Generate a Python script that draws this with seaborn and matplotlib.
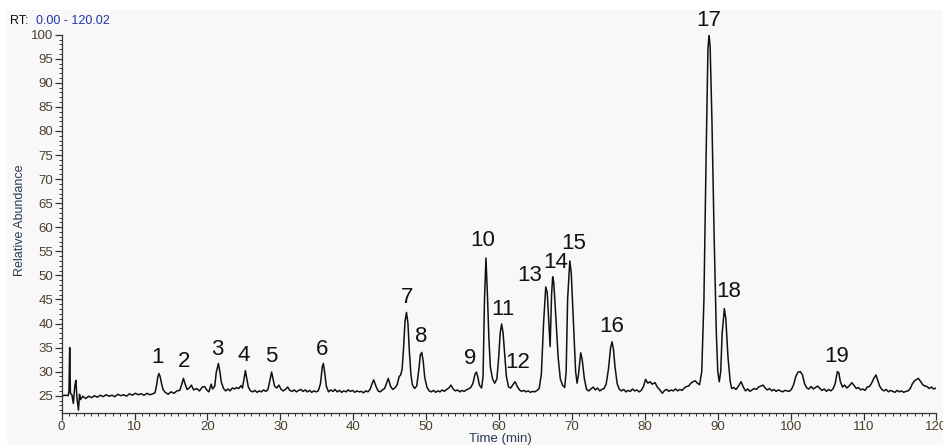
import numpy as np
import matplotlib
matplotlib.use("Agg")
from matplotlib import pyplot as plt
from matplotlib.patches import Rectangle
from matplotlib.ticker import MultipleLocator
import seaborn as sns

# retention time (min) and relative abundance
rt = [0.0, 0.5, 0.9, 1.0, 1.1, 1.2, 1.4, 1.6, 1.8, 1.95, 2.1, 2.3, 2.45, 2.6, 2.9, 3.3, 3.7, 4.1,
      4.5, 4.9, 5.3, 5.7, 6.1, 6.5, 6.9, 7.3, 7.7, 8.1, 8.5, 8.9, 9.3, 9.7, 10.1, 10.5, 10.9,
      11.3, 11.7, 12.1, 12.5, 12.8, 13.0, 13.2, 13.35, 13.5, 13.7, 13.9, 14.2, 14.6, 15.0, 15.4,
      15.8, 16.2, 16.5, 16.7, 16.9, 17.2, 17.5, 17.8, 18.1, 18.5, 18.9, 19.3, 19.6, 19.9, 20.2,
      20.5, 20.7, 21.0, 21.2, 21.5, 21.7, 21.9, 22.2, 22.5, 22.8, 23.1, 23.4, 23.7, 24.0, 24.3,
      24.6, 24.8, 25.0, 25.2, 25.4, 25.6, 25.9, 26.2, 26.5, 26.8, 27.1, 27.4, 27.7, 28.0, 28.3,
      28.6, 28.8, 29.0, 29.2, 29.5, 29.8, 30.1, 30.4, 30.7, 31.0, 31.3, 31.6, 31.9, 32.2, 32.5,
      32.8, 33.1, 33.4, 33.7, 34.0, 34.3, 34.6, 34.9, 35.2, 35.5, 35.75, 35.9, 36.1, 36.3, 36.6,
      36.9, 37.2, 37.5, 37.8, 38.1, 38.4, 38.7, 39.0, 39.3, 39.6, 39.9, 40.2, 40.5, 40.8, 41.1,
      41.4, 41.7, 42.0, 42.3, 42.6, 42.8, 43.1, 43.4, 43.7, 44.0, 44.3, 44.6, 44.8, 45.1, 45.4,
      45.7, 46.0, 46.3, 46.5, 46.7, 46.9, 47.1, 47.3, 47.5, 47.7, 47.9, 48.1, 48.4, 48.7, 49.0,
      49.2, 49.4, 49.6, 49.8, 50.1, 50.4, 50.7, 51.0, 51.3, 51.6, 51.9, 52.2, 52.5, 52.8, 53.1,
      53.4, 53.7, 54.0, 54.3, 54.6, 54.9, 55.2, 55.5, 55.8, 56.1, 56.4, 56.7, 56.9, 57.1, 57.3,
      57.6, 57.8, 58.0, 58.2, 58.4, 58.6, 58.8, 59.1, 59.4, 59.7, 59.95, 60.15, 60.35, 60.55,
      60.8, 61.0, 61.3, 61.6, 61.9, 62.2, 62.5, 62.8, 63.1, 63.4, 63.7, 64.0, 64.3, 64.6, 64.9,
      65.2, 65.5, 65.8, 66.1, 66.4, 66.6, 66.8, 67.0, 67.2, 67.35, 67.5, 67.8, 68.1, 68.4, 68.7,
      69.0, 69.2, 69.4, 69.7, 69.9, 70.2, 70.5, 70.7, 70.9, 71.2, 71.4, 71.7, 72.0, 72.3, 72.6,
      72.9, 73.2, 73.5, 73.8, 74.1, 74.4, 74.7, 75.0, 75.3, 75.5, 75.7, 75.9, 76.2, 76.5, 76.8,
      77.1, 77.4, 77.7, 78.0, 78.3, 78.6, 78.9, 79.2, 79.5, 79.8, 80.1, 80.4, 80.7, 81.0, 81.4,
      81.7, 82.0, 82.4, 82.7, 83.0, 83.3, 83.6, 83.9, 84.2, 84.5, 84.8, 85.1, 85.4, 85.7, 86.0,
      86.3, 86.6, 86.9, 87.2, 87.5, 87.8, 88.1, 88.4, 88.65, 88.8, 88.95, 89.2, 89.5, 89.8, 90.0,
      90.2, 90.4, 90.6, 90.9, 91.1, 91.4, 91.7, 91.9, 92.2, 92.5, 92.8, 93.2, 93.5, 93.8, 94.1,
      94.4, 94.7, 95.0, 95.3, 95.6, 95.9, 96.2, 96.5, 96.8, 97.1, 97.4, 97.7, 98.0, 98.3, 98.6,
      98.9, 99.2, 99.5, 99.8, 100.1, 100.4, 100.7, 101.0, 101.3, 101.6, 101.9, 102.2, 102.5,
      102.8, 103.1, 103.4, 103.7, 104.0, 104.3, 104.6, 104.9, 105.2, 105.5, 105.8, 106.1, 106.4,
      106.6, 106.8, 107.1, 107.4, 107.7, 108.0, 108.4, 108.7, 109.0, 109.3, 109.6, 109.9, 110.2,
      110.5, 110.8, 111.1, 111.4, 111.7, 111.9, 112.2, 112.5, 112.8, 113.1, 113.4, 113.7, 114.0,
      114.3, 114.6, 114.9, 115.2, 115.5, 115.8, 116.1, 116.4, 116.7, 117.0, 117.3, 117.5, 117.8,
      118.1, 118.4, 118.7, 119.0, 119.3, 119.6, 120.0]

abundance = [25.0, 25.1, 25.0, 26.0, 35.0, 25.5, 25.2, 23.4, 27.0, 28.2, 24.5, 22.0, 25.3, 24.2,
             24.9, 24.4, 24.9, 24.6, 25.0, 24.7, 25.1, 24.8, 25.2, 24.9, 25.1, 24.8, 25.3, 25.0,
             25.2, 24.9, 25.4, 25.1, 25.5, 25.2, 25.4, 25.1, 25.5, 25.2, 25.4, 25.6, 27.0, 29.0,
             29.6, 29.0, 27.5, 26.3, 25.7, 25.3, 25.8, 25.5, 26.0, 26.1, 27.5, 28.6, 27.6, 26.3,
             26.6, 27.2, 26.2, 26.5, 26.0, 26.8, 26.9, 26.2, 25.8, 27.4, 26.4, 27.0, 29.8, 31.7,
             30.0, 27.8, 26.5, 26.0, 26.4, 26.0, 26.6, 26.4, 26.7, 26.5, 27.1, 26.6, 28.4, 30.2,
             28.5, 26.8, 26.0, 25.8, 26.1, 25.7, 26.0, 25.8, 26.2, 25.9, 26.3, 28.5, 29.9, 28.4,
             27.0, 26.6, 27.2, 26.3, 26.0, 26.3, 26.8, 26.1, 25.9, 26.2, 25.8, 26.1, 26.3, 25.9,
             26.2, 25.8, 26.1, 25.7, 26.0, 25.8, 26.0, 27.5, 31.0, 31.7, 29.5, 27.0, 25.8, 26.2,
             25.9, 26.3, 25.8, 26.1, 25.7, 26.0, 25.8, 26.2, 25.9, 26.1, 25.7, 26.0, 25.8, 25.9,
             25.6, 26.0, 25.8, 26.3, 27.6, 28.3, 27.0, 26.0, 25.8, 26.2, 26.5, 27.8, 28.6, 27.0,
             26.3, 26.6, 27.2, 29.0, 29.3, 30.5, 35.0, 40.5, 42.3, 40.0, 34.0, 29.5, 27.3, 26.5,
             27.0, 30.5, 33.5, 34.0, 32.0, 28.8, 26.8, 26.0, 25.8, 26.1, 25.7, 26.0, 25.8, 26.2,
             25.9, 26.3, 26.6, 27.2, 26.4, 26.0, 26.2, 25.8, 26.1, 25.9, 26.2, 26.4, 26.7, 27.5,
             29.5, 29.9, 28.8, 27.2, 26.6, 29.0, 45.0, 53.6, 46.0, 37.0, 31.0, 28.5, 27.6, 28.5,
             33.0, 38.0, 39.9, 38.0, 33.0, 29.0, 26.8, 26.6, 27.3, 27.9, 26.9, 26.2, 25.9, 26.1,
             25.8, 26.0, 25.7, 25.9, 25.8, 26.1, 26.5, 29.5, 40.0, 47.6, 46.5, 41.0, 35.2, 46.0,
             49.7, 48.5, 41.0, 33.0, 28.5, 27.2, 26.7, 30.0, 45.0, 53.0, 50.5, 40.0, 30.0, 27.6,
             29.5, 33.9, 32.5, 28.5, 26.3, 26.0, 26.4, 26.8, 26.2, 26.6, 26.0, 26.3, 26.5, 27.5,
             30.5, 35.0, 36.2, 34.5, 31.0, 27.5, 26.3, 26.0, 26.3, 25.8, 26.1, 25.9, 26.4, 26.0,
             26.2, 25.8, 26.1, 26.9, 28.4, 27.6, 27.9, 27.4, 27.7, 26.8, 26.3, 25.5, 26.1, 26.3,
             25.9, 26.2, 26.0, 26.4, 26.0, 26.3, 26.1, 26.6, 26.9, 27.0, 27.6, 27.9, 28.1, 27.6,
             27.3, 30.0, 45.0, 75.0, 97.0, 100.0, 97.5, 82.0, 58.0, 38.0, 30.0, 27.9, 30.0, 38.0,
             43.1, 41.0, 33.0, 28.0, 26.5, 26.7, 26.3, 26.9, 27.9, 26.8, 26.0, 26.4, 25.9, 26.2,
             26.5, 26.3, 26.8, 27.0, 27.2, 26.6, 26.2, 26.5, 26.0, 26.3, 25.9, 26.2, 26.0, 25.8,
             26.1, 26.0, 25.9, 26.3, 27.3, 29.0, 29.9, 30.0, 29.4, 27.5, 26.6, 26.4, 26.9, 26.4,
             26.7, 27.0, 26.5, 26.1, 26.4, 25.9, 26.3, 26.0, 26.4, 27.5, 30.0, 29.8, 28.0, 26.8,
             27.2, 26.6, 27.0, 27.7, 27.1, 26.5, 26.7, 26.2, 26.4, 26.1, 26.8, 26.9, 27.6, 28.6,
             29.3, 28.4, 27.0, 26.3, 26.0, 26.3, 25.8, 26.1, 25.9, 25.7, 26.1, 25.8, 26.0, 25.7,
             25.9, 26.0, 26.5, 27.5, 28.1, 28.4, 28.6, 28.0, 27.3, 27.0, 26.9, 26.5, 26.8, 26.4,
             26.6]

# peak numbers and where their labels sit (time, abundance)
peak_ids = [str(i) for i in range(1, 20)]
label_rt = [13.1, 16.8, 21.3, 25.0, 28.8, 35.7, 47.4, 49.3, 56.0, 57.8,
            60.5, 62.6, 64.2, 67.7, 70.3, 75.4, 88.8, 91.5, 106.3]
label_ab = [33.0, 32.2, 34.5, 33.4, 33.2, 34.7, 45.3, 37.2, 32.8, 57.3,
            43.0, 32.0, 50.0, 52.7, 56.7, 39.3, 103.0, 46.7, 33.2]

sns.set_style("ticks")
plt.rcParams["font.family"] = ["Liberation Sans", "DejaVu Sans"]

bg = "#F8F8F8"
tick_col = "#4A3F2A"
lab_col = "#2B3A55"

fig = plt.figure(figsize=(9.43, 4.45), dpi=100, facecolor="white")
fig.patches.append(Rectangle((7 / 943, 0), 1, (445 - 10) / 445, transform=fig.transFigure,
                             facecolor=bg, edgecolor="none", zorder=-10))
ax = fig.add_axes([0.0654, 0.0726, 0.9277, 0.8494])
ax.set_zorder(5)
ax.set_facecolor(bg)

sns.lineplot(x=rt, y=abundance, ax=ax, color="#111111", linewidth=1.1, sort=False)

ax.set_xlim(0, 120)
ax.set_ylim(21.47, 100)
ax.set_xticks(range(0, 121, 10))
ax.set_yticks(range(25, 101, 5))
ax.xaxis.set_minor_locator(MultipleLocator(1))
ax.yaxis.set_minor_locator(MultipleLocator(1))
ax.tick_params(axis="both", which="major", length=5, width=0.9, color="#333333",
               labelsize=9.5, labelcolor=tick_col, pad=1)
ax.tick_params(axis="both", which="minor", length=2.5, width=0.7, color="#333333")
for s in ["top", "right"]:
    ax.spines[s].set_visible(False)
for s in ["left", "bottom"]:
    ax.spines[s].set_color("#333333")
    ax.spines[s].set_linewidth(0.9)
ax.set_xlabel("")
ax.set_ylabel("")

for pid, x, y in zip(peak_ids, label_rt, label_ab):
    ax.text(x, y, pid, ha="center", va="center", fontsize=16, color="#111111", clip_on=False)

fig.text(10 / 943, 1 - 21 / 445, "RT:", fontsize=9, color="#111111", va="center")
fig.text(36 / 943, 1 - 21 / 445, "0.00 - 120.02", fontsize=9, color="#2233AA", va="center")
fig.text(20 / 943, 1 - 220 / 445, "Relative Abundance", fontsize=9, color=lab_col,
         rotation=90, ha="center", va="center")
fig.text(500 / 943, 1 - 439 / 445, "Time (min)", fontsize=9.5, color=lab_col,
         ha="center", va="center")

fig.savefig("out.png", dpi=100, facecolor="white")
